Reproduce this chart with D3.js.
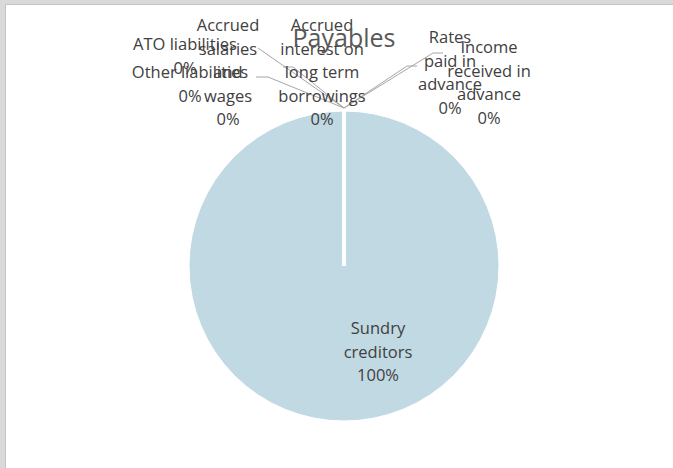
<!DOCTYPE html>
<html lang="en">

<head>
    <meta charset="utf-8">
    <!-- Load d3.js -->
    <script src="https://d3js.org/d3.v7.min.js"></script>
    <style>
        body { margin: 0; background: #d9d9d9; }
        .lbl { font-family: "Open Sans", sans-serif; font-size: 16.5px; fill: #404040; }
        .title { font-family: "Open Sans", sans-serif; font-size: 25px; fill: #595959; }
    </style>
</head>

<body>
    <div id="my_dataviz"></div>

    <script>
        // data (share of payables, %)
        const categories = [
            "Sundry creditors",
            "Accrued salaries and wages",
            "Accrued interest on long term borrowings",
            "ATO liabilities",
            "Other liabilities",
            "Rates paid in advance",
            "Income received in advance"
        ];
        const shares = [100, 0, 0, 0, 0, 0, 0];
        const percentLabels = ["100%", "0%", "0%", "0%", "0%", "0%", "0%"];
        // how the label text wraps in the original
        const wrappedNames = [
            ["Sundry", "creditors"],
            ["Accrued", "salaries", "and", "wages"],
            ["Accrued", "interest on", "long term", "borrowings"],
            ["ATO liabilities"],
            ["Other liabilities"],
            ["Rates", "paid in", "advance"],
            ["Income", "received in", "advance"]
        ];

        const W = 673, H = 468;
        const cx = 344, cy = 266, radius = 155;
        const lineH = 23.5;

        // label anchor (centre x, first baseline) relative to pie centre
        const labelPos = [
            [34, 68], [-116, -235], [-22, -235], [-159, -216],
            [-154, -188], [106, -223], [145, -213]
        ];
        // leader line bends, relative to the top of the pie (null = no leader)
        const leaders = [
            null,
            [[-86, -60]],
            [[-51, -41], [-61, -41]],
            [[-76, -31], [-88, -31]],
            null,
            [[63, -42], [73, -42]],
            [[89, -55], [99, -55]]
        ];

        const svg = d3.select("#my_dataviz")
            .append("svg")
            .attr("width", W)
            .attr("height", H);

        // chart area frame
        svg.append("rect")
            .attr("x", 5.5).attr("y", 4.5)
            .attr("width", W).attr("height", H)
            .attr("fill", "white")
            .attr("stroke", "#c4c4c4");

        const g = svg.append("g")
            .attr("transform", `translate(${cx},${cy})`);

        const pie = d3.pie().sort(null).value(d => d);
        const arcs = pie(shares);
        const arc = d3.arc().innerRadius(0).outerRadius(radius);

        // big slice first, then the empty ones on top as white borders
        g.selectAll("path.slice")
            .data(arcs.filter(d => d.value > 0))
            .join("path")
            .attr("class", "slice")
            .attr("d", arc)
            .attr("fill", "#c0d9e2")
            .attr("stroke", "white")
            .attr("stroke-width", 1);

        g.selectAll("path.empty")
            .data(arcs.filter(d => d.value === 0))
            .join("path")
            .attr("class", "empty")
            .attr("d", arc)
            .attr("fill", "none")
            .attr("stroke", "white")
            .attr("stroke-width", 4);

        // leader lines start just outside the pie edge at the slice angle
        arcs.forEach((d, i) => {
            if (!leaders[i]) return;
            const a = d.startAngle - Math.PI / 2;
            const p0 = [(radius + 3) * Math.cos(a), (radius + 3) * Math.sin(a)];
            const pts = [p0].concat(leaders[i].map(p => [p0[0] + p[0], p0[1] + p[1]]));
            g.append("path")
                .attr("d", d3.line()(pts))
                .attr("fill", "none")
                .attr("stroke", "#a6a6a6")
                .attr("stroke-width", 1);
        });

        // data labels
        arcs.forEach((d, i) => {
            const lines = wrappedNames[i].concat([percentLabels[i]]);
            const t = g.append("text")
                .attr("class", "lbl")
                .attr("text-anchor", "middle");
            lines.forEach((s, k) => {
                t.append("tspan")
                    .attr("x", labelPos[i][0])
                    .attr("y", labelPos[i][1] + k * lineH)
                    .text(s);
            });
        });

        // title
        svg.append("text")
            .attr("class", "title")
            .attr("x", cx)
            .attr("y", 47)
            .attr("text-anchor", "middle")
            .text("Payables");
    </script>

</body>

</html>
